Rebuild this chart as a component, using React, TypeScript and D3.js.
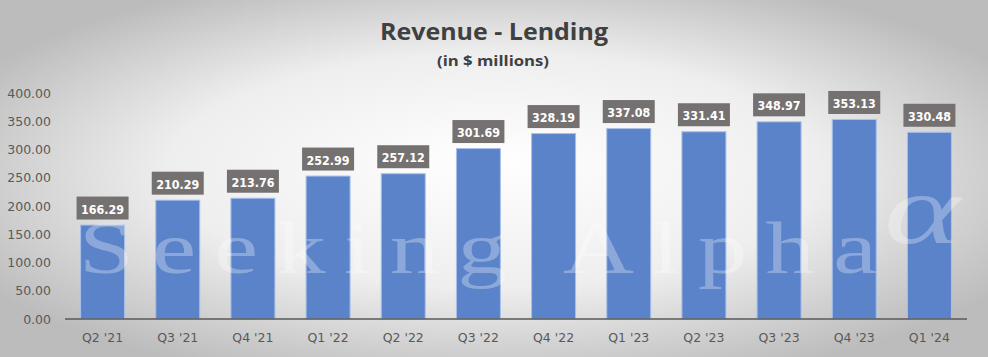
import React from "react";
import * as d3 from "d3";

const categories = ["Q2 '21", "Q3 '21", "Q4 '21", "Q1 '22", "Q2 '22", "Q3 '22", "Q4 '22", "Q1 '23", "Q2 '23", "Q3 '23", "Q4 '23", "Q1 '24"];
const values = [166.29, 210.29, 213.76, 252.99, 257.12, 301.69, 328.19, 337.08, 331.41, 348.97, 353.13, 330.48];
const yTicks = [0, 50, 100, 150, 200, 250, 300, 350, 400];

const W = 988;
const H = 357;

export default function App() {
  const x = d3.scaleBand<string>().domain(categories).range([65, 967]).paddingInner(0.415).paddingOuter(0.2075);
  const y = d3.scaleLinear().domain([0, 400]).range([319, 93]);
  const font = "'Open Sans', 'Noto Sans', sans-serif";
  const wmScale = 1.35;
  return (
    <svg width={W} height={H} style={{ position: "absolute", left: 0, top: 0 }}>
      <defs>
        <radialGradient id="bg" cx="50%" cy="50%" r="60%" fx="50%" fy="45%">
          <stop offset="0%" stopColor="#ffffff" />
          <stop offset="55%" stopColor="#eeeeee" />
          <stop offset="100%" stopColor="#bcbcbc" />
        </radialGradient>
      </defs>
      <rect x={0} y={0} width={W} height={H} fill="url(#bg)" />
      <text x={494} y={40} textAnchor="middle" fontFamily={font} fontWeight="bold" fontSize={24} fill="#404040" textLength={228} lengthAdjust="spacingAndGlyphs">Revenue - Lending</text>
      <text x={493} y={66} textAnchor="middle" fontFamily={font} fontWeight="bold" fontSize={15} fill="#404040" textLength={112} lengthAdjust="spacingAndGlyphs">(in $ millions)</text>
      {yTicks.map((t) => (
        <text key={t} x={51} y={y(t) + 4.5} textAnchor="end" fontFamily="'DejaVu Sans', sans-serif" fontSize={12.5} fill="#595959">{t.toFixed(2)}</text>
      ))}
      {categories.map((c, i) => (
        <rect key={c} x={x(c)} y={y(values[i])} width={x.bandwidth()} height={y(0) - y(values[i])} fill="#5b83ca" stroke="#a8c0ea" strokeWidth={1} />
      ))}
      <line x1={65} x2={967} y1={y(0)} y2={y(0)} stroke="#595959" strokeWidth={1.5} />
      {categories.map((c) => (
        <text key={c} x={(x(c) as number) + x.bandwidth() / 2} y={342} textAnchor="middle" fontFamily="'DejaVu Sans', sans-serif" fontSize={12.5} fill="#595959">{c}</text>
      ))}
      <text transform={`translate(79,273) scale(${wmScale},1)`} x={0} y={0} fontFamily="'Liberation Serif', serif" fontSize={73} fill="#ffffff" fillOpacity={0.3} textLength={798 / wmScale} lengthAdjust="spacing">Seeking Alpha</text>
      <text transform="translate(884,243) scale(1.45,1)" fontFamily="'Liberation Serif', serif" fontStyle="italic" fontSize={100} fill="#ffffff" fillOpacity={0.3}>α</text>
      {categories.map((c, i) => {
        const cx = (x(c) as number) + x.bandwidth() / 2;
        const top = y(values[i]);
        return (
          <g key={c}>
            <rect x={cx - 26} y={top - 28.5} width={52} height={23} fill="#767171" />
            <text x={cx} y={top - 11.5} textAnchor="middle" fontFamily="'DejaVu Sans', sans-serif" fontWeight="bold" fontSize={13} fill="#ffffff" textLength={43} lengthAdjust="spacingAndGlyphs">{values[i].toFixed(2)}</text>
          </g>
        );
      })}
    </svg>
  );
}
